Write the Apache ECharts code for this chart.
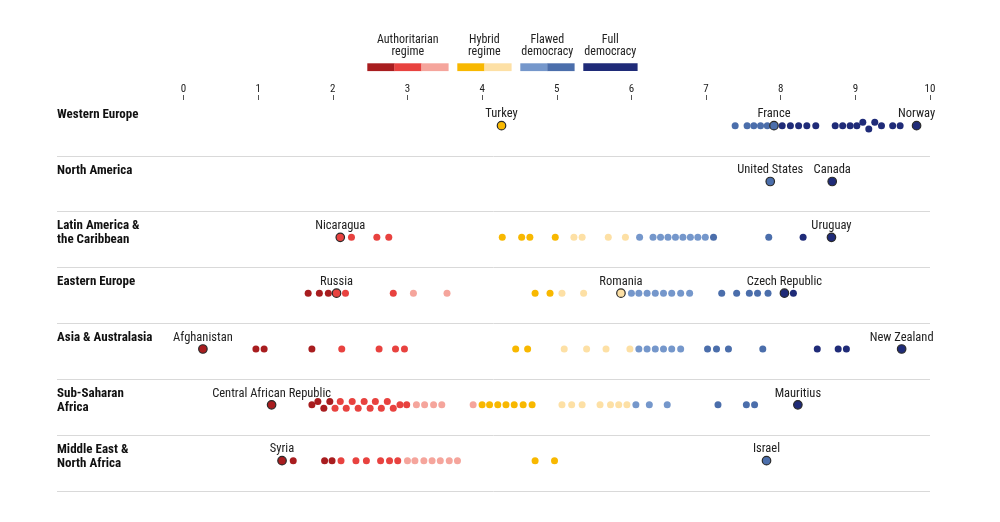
<!DOCTYPE html>
<html><head><meta charset="utf-8">
<script src="https://cdn.jsdelivr.net/npm/echarts@6/dist/echarts.min.js"></script>
<style>html,body{margin:0;padding:0;background:#fff}#c{width:1000px;height:522px}</style>
</head><body><div id="c"></div>
<script>
// ---------- DATA ----------
const regions = ['Western Europe', 'North America', 'Latin America &\nthe Caribbean', 'Eastern Europe', 'Asia & Australasia', 'Sub-Saharan\nAfrica', 'Middle East &\nNorth Africa'];
const tickLabels = ['0','1','2','3','4','5','6','7','8','9','10'];
const westernEurope = [4.26, 7.39, 7.55, 7.64, 7.73, 7.82, 7.91, 8.02, 8.13, 8.24, 8.35, 8.47, 8.73, 8.83, 8.93, 9.02, 9.10, 9.18, 9.26, 9.35, 9.50, 9.60, 9.82];
const northAmerica = [7.86, 8.69];
const latinAmerica = [2.10, 2.25, 2.59, 2.75, 4.27, 4.53, 4.64, 4.98, 5.23, 5.34, 5.69, 5.92, 6.11, 6.29, 6.39, 6.49, 6.59, 6.69, 6.79, 6.89, 6.99, 7.10, 7.84, 8.30, 8.68];
const easternEurope = [1.67, 1.82, 1.94, 2.05, 2.17, 2.81, 3.08, 3.53, 4.71, 4.91, 5.07, 5.36, 5.86, 6.00, 6.10, 6.21, 6.32, 6.43, 6.54, 6.66, 6.78, 7.21, 7.41, 7.58, 7.69, 7.83, 8.05, 8.17];
const asiaAustralasia = [0.26, 0.97, 1.08, 1.72, 2.12, 2.62, 2.84, 2.96, 4.45, 4.61, 5.10, 5.40, 5.66, 5.98, 6.10, 6.21, 6.32, 6.43, 6.54, 6.66, 7.02, 7.14, 7.30, 7.76, 8.49, 8.77, 8.88, 9.62];
const subSaharanAfrica = [1.18, 1.72, 1.80, 1.88, 1.96, 2.03, 2.10, 2.18, 2.26, 2.34, 2.42, 2.50, 2.57, 2.65, 2.73, 2.81, 2.90, 2.99, 3.12, 3.23, 3.35, 3.46, 3.88, 4.00, 4.10, 4.21, 4.32, 4.43, 4.55, 4.67, 5.07, 5.20, 5.34, 5.58, 5.72, 5.83, 5.94, 6.06, 6.24, 6.48, 7.16, 7.54, 7.65, 8.23];
const middleEastNorthAfrica = [1.32, 1.47, 1.89, 1.99, 2.11, 2.31, 2.45, 2.64, 2.76, 2.87, 3.00, 3.10, 3.22, 3.33, 3.44, 3.56, 3.67, 4.71, 4.97, 7.81];
const highlightNames  = ['Turkey','France','Norway','United States','Canada','Nicaragua','Uruguay','Russia','Romania','Czech Republic','Afghanistan','New Zealand','Central African Republic','Mauritius','Syria','Israel'];
const highlightRegion = [0,0,0,1,1,2,2,3,3,3,4,4,5,5,6,6];
const highlightScores = [4.26,7.91,9.82,7.86,8.69,2.10,8.68,2.05,5.86,8.05,0.26,9.62,1.18,8.23,1.32,7.81];
const legendNames = ['Authoritarian\nregime','Hybrid\nregime','Flawed\ndemocracy','Full\ndemocracy'];
const scoreCuts = [2,3,4,5,6,7,8];
// ---------- STYLE ----------
const regionScores = [westernEurope, northAmerica, latinAmerica, easternEurope, asiaAustralasia, subSaharanAfrica, middleEastNorthAfrica];
const palette = ['#a81d1f','#e8423f','#f5a59c','#f8b800','#fde0a5','#7597cb','#4b6eab','#1f2b78'];
const legendShades = [[0,1,2],[3,4],[5,6],[7]];
const legendUnits = [3,2,2,2];
const FONT = "'Liberation Sans Narrow','Roboto Condensed',Roboto,sans-serif";
function colorOf(s){ let i=0; while(i<scoreCuts.length && s>=scoreCuts[i]) i++; return palette[i]; }

const chart = echarts.init(document.getElementById('c'));
const rowPad = 0.46;
const base = {
  animation:false,
  grid:[{left:57,right:70,top:155.83,bottom:31.2},{left:183.5,right:70,top:100,bottom:31.2}],
  xAxis:[
    {gridIndex:0,type:'value',min:0,max:1,show:false},
    {gridIndex:1,type:'value',position:'top',min:0,max:10,interval:1,
     axisLine:{show:false,onZero:false},axisTick:{show:true,length:5,lineStyle:{color:'#555',width:1}},
     axisLabel:{margin:5,fontSize:11,color:'#222',fontFamily:FONT,formatter:v=>tickLabels[Math.round(v)]},
     splitLine:{show:false}}
  ],
  yAxis:[
    {gridIndex:0,type:'value',min:0,max:6,interval:1,inverse:true,axisLine:{show:false},axisTick:{show:false},axisLabel:{show:false},
     splitLine:{show:true,lineStyle:{color:'#d9d9d9',width:1}}},
    {gridIndex:1,type:'value',min:-rowPad,max:7-rowPad,interval:1,inverse:true,axisLine:{show:false,onZero:false},axisTick:{show:false},splitLine:{show:false},
     axisLabel:{show:true,showMinLabel:true,showMaxLabel:false,margin:126.5,align:'left',verticalAlign:'top',padding:[7.5,0,0,0],
       lineHeight:14,fontSize:13,fontWeight:'bold',color:'#111',fontFamily:FONT,
       formatter:v=>regions[Math.round(v+rowPad)]||''}}
  ],
  series:[]
};
chart.setOption(base);

// beeswarm: a run of dots closer than one diameter zig-zags up/down around the row line
const D = 6.6, A = 3.4;
function swarm(xs){
  const ys=[]; let run=0;
  xs.forEach((x,i)=>{
    run = (i>0 && x-xs[i-1] < D) ? run+1 : 0;
    ys.push(run===0 ? 0 : (run%2===1 ? -A : A));
  });
  return ys;
}
const pxPerRow = chart.convertToPixel({yAxisIndex:1},1) - chart.convertToPixel({yAxisIndex:1},0);
const dots=[], hl=[];
regionScores.forEach((arr,ri)=>{
  const sorted = arr.slice().sort((a,b)=>a-b);
  const xs = sorted.map(s=>chart.convertToPixel({xAxisIndex:1}, s));
  const ys = swarm(xs);
  sorted.forEach((s,k)=>dots.push([s, ri + ys[k]/pxPerRow]));
  highlightNames.forEach((n,hi)=>{
    if(highlightRegion[hi]!==ri) return;
    const k = sorted.findIndex(s=>Math.abs(s-highlightScores[hi])<1e-9);
    hl.push({name:n, value:[highlightScores[hi], ri + (k>=0? ys[k]/pxPerRow : 0)]});
  });
});

// legend graphics
const g=[]; const lx0=367.3, seg=27, gap=9, ly=63.3;
let cx=lx0;
legendNames.forEach((name,gi)=>{
  const w = legendUnits[gi]*seg;
  const shades = legendShades[gi]; const sw = w/shades.length;
  shades.forEach((pi,si)=>g.push({type:'rect',shape:{x:cx+si*sw,y:ly,width:sw+0.3,height:7.8},style:{fill:palette[pi]},silent:true}));
  g.push({type:'text',x:cx+w/2,y:34,style:{text:name,align:'center',verticalAlign:'top',fontSize:12,lineHeight:11.8,fontFamily:FONT,fill:'#222'},silent:true});
  cx += w + gap;
});

chart.setOption({
  graphic:g,
  series:[
    {type:'scatter',xAxisIndex:1,yAxisIndex:1,symbolSize:7,data:dots,silent:true,
     itemStyle:{color:p=>colorOf(p.value[0]),opacity:1}},
    {type:'scatter',xAxisIndex:1,yAxisIndex:1,symbolSize:8.5,data:hl,silent:true,z:3,
     itemStyle:{color:p=>colorOf(p.value[0]),borderColor:'#2a2a2a',borderWidth:1.2,opacity:1},
     label:{show:true,position:'top',distance:0,formatter:'{b}',fontSize:12.5,color:'#222',fontFamily:FONT}}
  ]
});
</script></body></html>
